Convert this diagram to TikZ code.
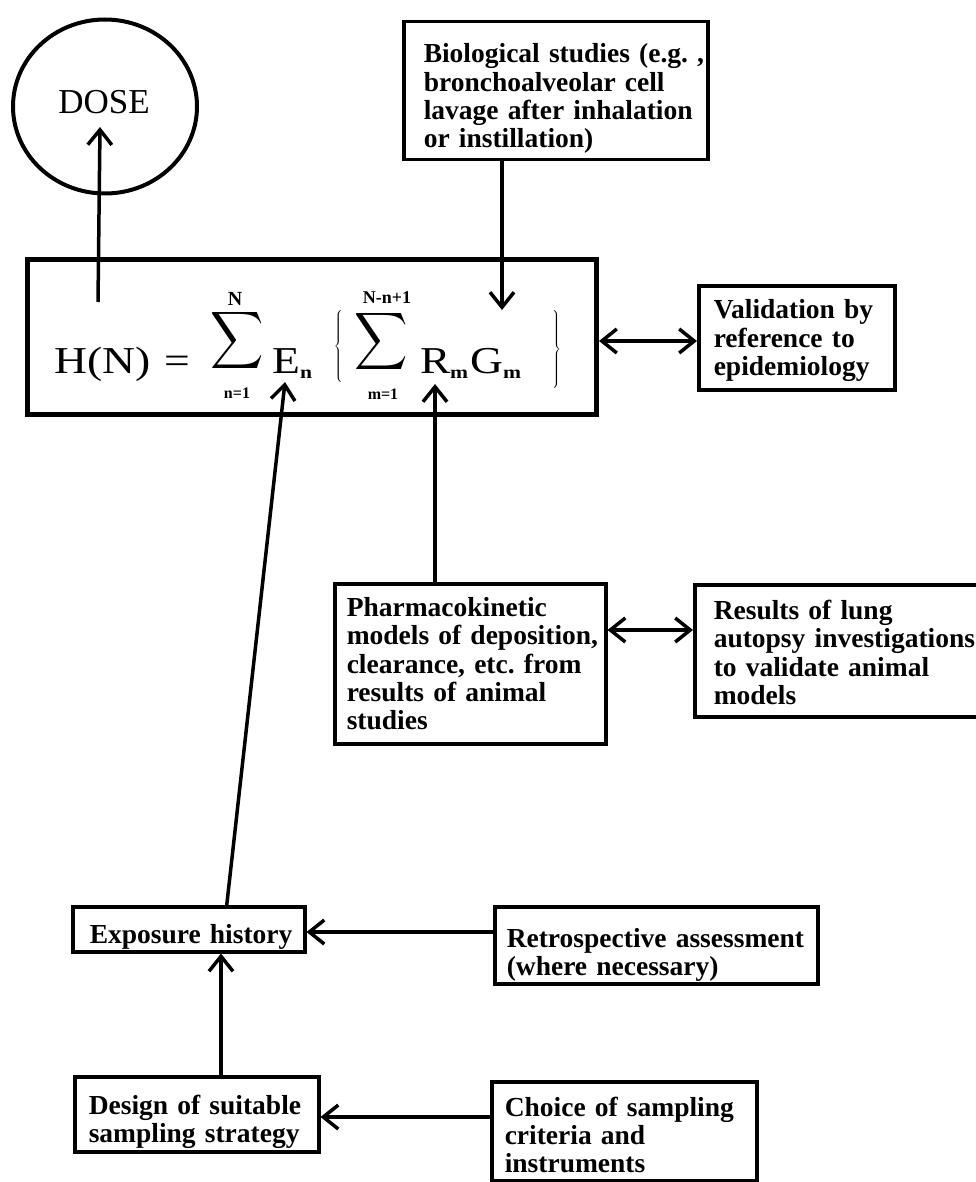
\documentclass[tikz,border=0pt]{standalone}
\usepackage{fontspec}
\setmainfont{Liberation Serif}
\newfontfamily\ffont[FakeStretch=1.2]{Liberation Serif}
\usetikzlibrary{arrows.meta,shapes.geometric}
\newcommand{\nohyph}{\hyphenpenalty=10000\relax\exhyphenpenalty=10000\relax}
\newcommand{\tpad}[1]{\rule{0pt}{#1}}
\begin{document}
\begin{tikzpicture}[x=1pt,y=-1pt,
  box/.style={draw, line width=3.5pt, rectangle, anchor=north west, align=left, inner ysep=0pt,
    font={\fontsize{27.5}{28.3}\selectfont\bfseries\nohyph}},
  arr/.style={line width=3.5pt, -{Straight Barb[length=15pt,width=24pt]}},
  darr/.style={line width=3.5pt, {Straight Barb[length=15pt,width=24pt]}-{Straight Barb[length=15pt,width=24pt]}},
  fml/.style={inner sep=0pt, anchor=base west, font=\ffont\fontsize{38}{40}\selectfont},
  sub/.style={inner sep=0pt, anchor=base west, font=\ffont\bfseries\fontsize{18}{20}\selectfont},
  lim/.style={inner sep=0pt, font=\bfseries\fontsize{16}{18}\selectfont},
  big/.style={inner sep=0pt}
]
\fill[white] (0,0) rectangle (975,1182);
\useasboundingbox (0,0) rectangle (975,1182);

% DOSE circle
\node[draw, ellipse, line width=4pt, minimum width=184pt, minimum height=174pt] (dose) at (105,106.5) {};
\node[inner sep=0pt, font=\fontsize{35}{40}\selectfont] (dosetext) at (104,102) {DOSE};

% main formula box
\node[draw, line width=5pt, anchor=north west, minimum width=569pt, minimum height=155pt, inner sep=0pt] (main) at (25,257) {};
\node[fml] (hn) at (54,373) {H(N)};
\node[fml] (eq) at (164,373) {=};
\node[big] (sum1) at (237,341) {\scalebox{3.7}[4.0]{$\displaystyle\sum$}};
\node[lim, font=\bfseries\fontsize{20}{22}\selectfont] (sumtop1) at (235,299) {N};
\node[lim] (sumbot1) at (237,393) {n=1};
\node[fml] (E) at (272,373) {E};
\node[sub] (En) at (300,378) {n};
\node[big] (lb) at (339,346) {$\left\{\vcenter{\hbox{\rule{0pt}{74pt}}}\right.$};
\node[big] (sum2) at (381,342) {\scalebox{3.7}[4.0]{$\displaystyle\sum$}};
\node[lim, font=\bfseries\fontsize{18}{20}\selectfont] (sumtop2) at (387,298) {N-n+1};
\node[lim] (sumbot2) at (383,394) {m=1};
\node[fml] (R) at (420,373) {R};
\node[sub] (Rm) at (450,378) {m};
\node[fml] (G) at (470,373) {G};
\node[sub] (Gm) at (503,378) {m};
\node[big] (rb) at (556,349) {$\left.\vcenter{\hbox{\rule{0pt}{78pt}}}\right\}$};

% boxes
\node[box, inner xsep=20pt, text width=264pt, minimum width=304pt, minimum height=138pt] (bio) at (402,20)
  {\tpad{35pt}Biological~studies~(e.g.~,\\ bronchoalveolar~cell\\ lavage~after~inhalation\\ or~instillation)};
\node[box, inner xsep=15pt, text width=166pt, minimum width=196pt, minimum height=104pt] (valid) at (697,284)
  {\tpad{25pt}Validation~by\\ reference~to\\ epidemiology};
\node[box, inner xsep=12pt, text width=247pt, minimum width=271pt, minimum height=160pt] (pharma) at (333,582)
  {Pharmacokinetic\\ models~of~deposition,\\ clearance,~etc.~from\\ results~of~animal\\ studies};
\node[box, inner xsep=19pt, text width=262pt, minimum width=300pt, minimum height=132pt] (results) at (693,583)
  {\tpad{23pt}Results~of~lung\\ autopsy~investigations\\ to~validate~animal\\ models};
\node[box, inner xsep=17pt, text width=198pt, minimum width=232pt, minimum height=45pt] (expo) at (71,905)
  {\tpad{34pt}Exposure~history};
\node[box, inner xsep=12pt, text width=299pt, minimum width=323pt, minimum height=77pt] (retro) at (493,905)
  {\tpad{38pt}Retrospective~assessment\\ (where~necessary)};
\node[box, inner xsep=14pt, text width=216pt, minimum width=244pt, minimum height=75pt] (design) at (73,1075)
  {\tpad{34pt}Design~of~suitable\\ sampling~strategy};
\node[box, inner xsep=13pt, text width=239pt, minimum width=265pt, minimum height=99pt] (choice) at (490,1080)
  {\tpad{27pt}Choice~of~sampling\\ criteria~and\\ instruments};

% helper coordinates
\coordinate (dosefrom) at (98,302);
\coordinate (dosetip) at (100,127);
\coordinate (Gtip) at (502,310);
\coordinate (Etip) at (285,382);
\coordinate (Rtip) at (435,384);
\coordinate (r1) at (0,341);
\coordinate (r2) at (0,630);
\coordinate (r3) at (0,932);
\coordinate (r4) at (0,1117);
\coordinate (c1) at (221,0);

% connectors
\draw[arr] (dosefrom) -- (dosetip);
\draw[arr] (Gtip |- bio.south) -- (Gtip);
\draw[arr] ([xshift=38pt]expo.north) -- (Etip);
\draw[arr] (Rtip |- pharma.north) -- (Rtip);
\draw[darr] (main.east |- r1) -- (valid.west |- r1);
\draw[darr] (pharma.east |- r2) -- (results.west |- r2);
\draw[arr] (retro.west |- r3) -- (expo.east |- r3);
\draw[arr] (choice.west |- r4) -- (design.east |- r4);
\draw[arr] (design.north -| c1) -- (expo.south -| c1);
\end{tikzpicture}
\end{document}
